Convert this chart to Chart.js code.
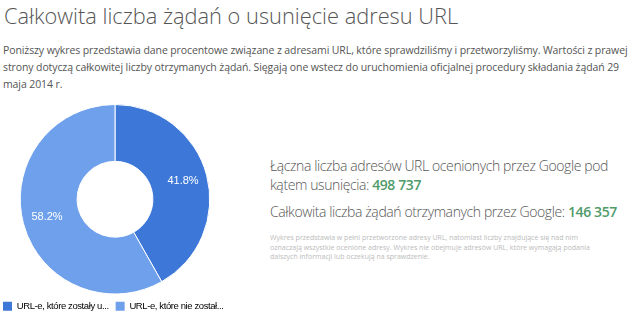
<!DOCTYPE html>
<html>
<head>
<meta charset="utf-8">
<script src="https://cdn.jsdelivr.net/npm/chart.js@4"></script>
<style>
  body { margin: 0; width: 630px; height: 316px; background: #fff; position: relative; overflow: hidden; font-family: "Open Sans", sans-serif; color: #555; }
  #title { position: absolute; left: 4px; top: 1px; font-size: 21.8px; font-weight: 300; color: #555; white-space: nowrap; }
  #intro { position: absolute; left: 3px; top: 42px; font-size: 10.5px; letter-spacing: -0.1px; line-height: 17px; color: #555; white-space: nowrap; }
  #stats { position: absolute; left: 270px; top: 156px; font-weight: 300; color: #555; white-space: nowrap; }
  .big { font-size: 14px; letter-spacing: -0.4px; line-height: 19px; }
  .num { color: #4f9b69; font-weight: 600; }
  .note { font-size: 7px; line-height: 9.5px; color: #bbb; font-weight: 400; margin-top: 12px; letter-spacing: 0; }
  #wrap { position: absolute; left: -4px; top: 96px; width: 238px; height: 225px; }
</style>
</head>
<body>
<div id="title">Całkowita liczba żądań o usunięcie adresu URL</div>
<div id="intro">Poniższy wykres przedstawia dane procentowe związane z adresami URL, które sprawdziliśmy i przetworzyliśmy. Wartości z prawej<br>strony dotyczą całkowitej liczby otrzymanych żądań. Sięgają one wstecz do uruchomienia oficjalnej procedury składania żądań 29<br>maja 2014 r.</div>
<div id="stats">
  <div class="big">Łączna liczba adresów URL ocenionych przez Google pod<br>kątem usunięcia: <span class="num">498 737</span></div>
  <div class="big" style="margin-top:8px">Całkowita liczba żądań otrzymanych przez Google: <span class="num">146 357</span></div>
  <div class="note">Wykres przedstawia w pełni przetworzone adresy URL, natomiast liczby znajdujące się nad nim<br>oznaczają wszystkie ocenione adresy. Wykres nie obejmuje adresów URL, które wymagają podania<br>dalszych informacji lub oczekują na sprawdzenie.</div>
</div>
<div id="wrap"><canvas id="myChart"></canvas></div>
<script>
var categories = ["URL-e, które zostały usunięte", "URL-e, które nie zostały usunięte"];
var shares = [41.8, 58.2];
var sliceColors = ["#3d78d8", "#6fa0ec"];

// tighter letters so the legend fits on one row, like the original
var narrowText = {
  id: "narrowText",
  beforeUpdate: function(chart) { chart.ctx.letterSpacing = "-0.4px"; },
  beforeDraw: function(chart) { chart.ctx.letterSpacing = "-0.4px"; }
};

// percent labels drawn inside each slice
var sliceLabels = {
  id: "sliceLabels",
  afterDatasetsDraw: function(chart) {
    var ctx = chart.ctx;
    var meta = chart.getDatasetMeta(0);
    ctx.save();
    ctx.letterSpacing = "0px";
    ctx.fillStyle = "#fff";
    ctx.font = "11px Arial";
    ctx.textAlign = "center";
    ctx.textBaseline = "middle";
    meta.data.forEach(function(arc, i) {
      var mid = (arc.startAngle + arc.endAngle) / 2;
      var r = (arc.innerRadius + arc.outerRadius) / 2 + 4;
      ctx.fillText(shares[i].toFixed(1) + "%", arc.x + Math.cos(mid) * r, arc.y + Math.sin(mid) * r);
    });
    ctx.restore();
  }
};

function shorten(t, n) {
  return t.length > n ? t.slice(0, n) + "..." : t;
}

new Chart("myChart", {
  type: "doughnut",
  data: {
    labels: categories,
    datasets: [{
      data: shares,
      backgroundColor: sliceColors,
      borderColor: "#fff",
      borderWidth: 1
    }]
  },
  options: {
    responsive: true,
    maintainAspectRatio: false,
    animation: false,
    cutout: "40%",
    layout: { padding: { top: 8, bottom: 0 } },
    plugins: {
      tooltip: { enabled: false },
      legend: {
        position: "bottom",
        align: "start",
        labels: {
          boxWidth: 9,
          boxHeight: 9,
          padding: 7,
          color: "#222",
          font: { family: "Arial", size: 9.5 },
          generateLabels: function(chart) {
            return categories.map(function(c, i) {
              return { text: shorten(c, [22, 23][i]), fillStyle: sliceColors[i], strokeStyle: sliceColors[i], lineWidth: 0, index: i };
            });
          }
        }
      }
    }
  },
  plugins: [narrowText, sliceLabels]
});
</script>
</body>
</html>
